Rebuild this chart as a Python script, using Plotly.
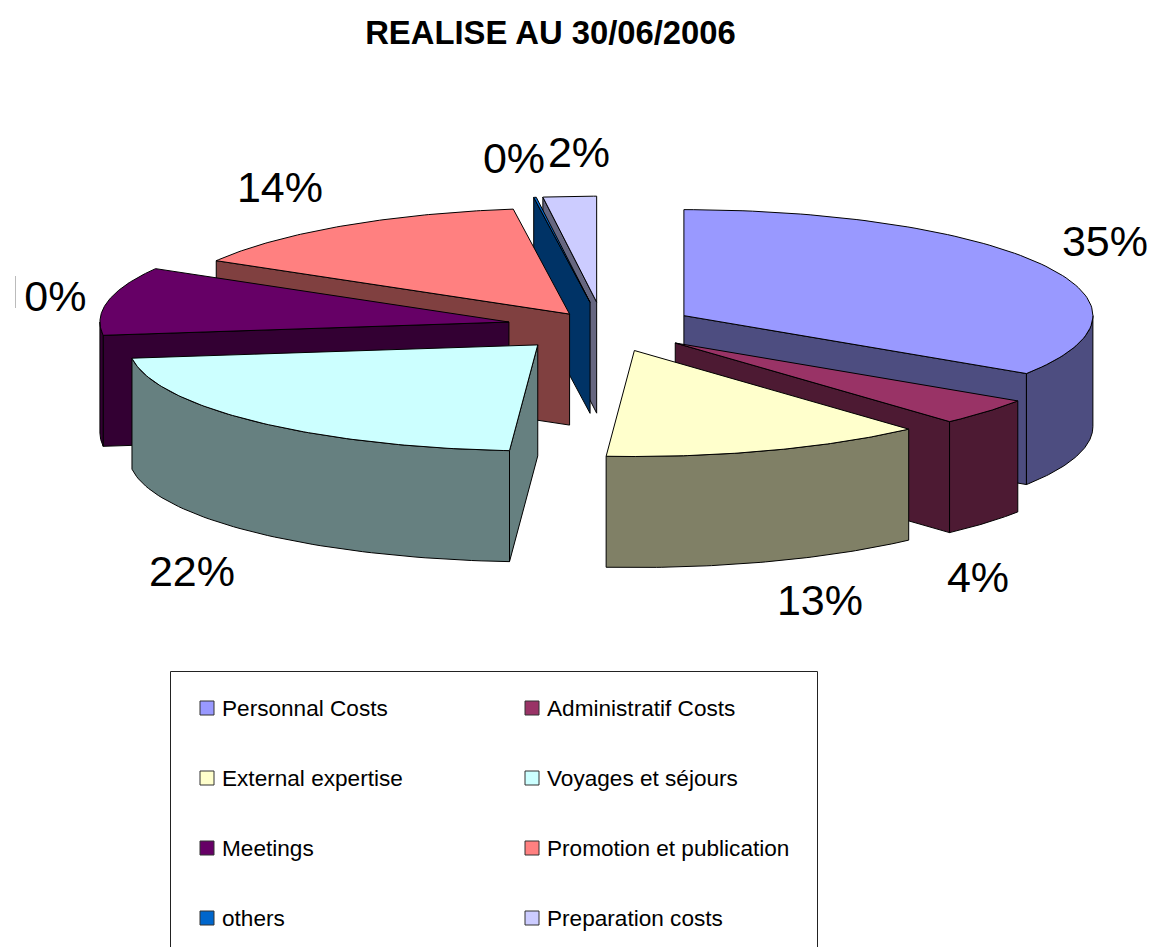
import numpy as np
import plotly.graph_objects as go

# ---- data ----
title = "REALISE AU 30/06/2006"
categories = ["Personnal Costs", "Administratif Costs", "External expertise", "Voyages et séjours",
              "Meetings", "Promotion et publication", "others", "Preparation costs"]
values = [34.2, 4.1, 12.8, 21.9, 10.4, 14.4, 0.1, 2.1]
percent_labels = ["35%", "4%", "13%", "22%", "10%", "14%", "0%", "2%"]

# ---- styles ----
top_colors = ["#9999FF", "#993366", "#FFFFCC", "#CCFFFF", "#660066", "#FF8080", "#0066CC", "#CCCCFF"]
side_colors = ["#4D4D80", "#4D1A33", "#808066", "#668080", "#330033", "#804040", "#003366", "#666680"]
explode = [92, 95, 96, 95, 96, 60, 96, 96]
draw_order = [7, 6, 5, 4, 3, 0, 1, 2]
label_xy = [(1105, 245), (978, 581), (820, 604), (192, 575), (43.5, 300), (280, 191), (514, 162), (579, 156)]
legend_cols = [(207, 222), (532, 547)]
legend_rows = [708, 778, 848, 918]

CX, CY, RX, RY, DEPTH = 603, 327, 409, 106, 111
FONT = "Liberation Sans"
OUTLINE = dict(color="#000000", width=1)

total = sum(values)
edges = np.concatenate([[0], np.cumsum(values)]) / total * 2 * np.pi


def pt(ax, ay, a, drop=0.0):
    return ax + RX * np.sin(a), ay - RY * np.cos(a) + drop


def poly(xs, ys, color):
    return go.Scatter(x=list(xs), y=list(ys), mode="lines", fill="toself", fillcolor=color,
                      line=OUTLINE, hoverinfo="skip", showlegend=False)


fig = go.Figure()

for i in draw_order:
    a0, a1 = edges[i], edges[i + 1]
    mid = (a0 + a1) / 2
    ax = CX + explode[i] * np.sin(mid)
    ay = CY - explode[i] * RY / RX * np.cos(mid)

    # radial walls that face the viewer
    if np.sin(a0) < -1e-6:
        x, y = pt(ax, ay, a0)
        fig.add_trace(poly([ax, x, x, ax, ax], [ay, y, y + DEPTH, ay + DEPTH, ay], side_colors[i]))
    if np.sin(a1) > 1e-6:
        x, y = pt(ax, ay, a1)
        fig.add_trace(poly([ax, x, x, ax, ax], [ay, y, y + DEPTH, ay + DEPTH, ay], side_colors[i]))

    # outer rim, front half only
    f0, f1 = max(a0, np.pi / 2), min(a1, 3 * np.pi / 2)
    if f1 > f0:
        t = np.linspace(f0, f1, 60)
        x, y = pt(ax, ay, t)
        fig.add_trace(poly(np.r_[x, x[::-1], x[0]], np.r_[y, y[::-1] + DEPTH, y[0]], side_colors[i]))

    # top face
    t = np.linspace(a0, a1, 90)
    x, y = pt(ax, ay, t)
    fig.add_trace(poly(np.r_[ax, x, ax], np.r_[ay, y, ay], top_colors[i]))

# percentage labels
fig.add_trace(go.Scatter(
    x=[p[0] for p in label_xy], y=[p[1] for p in label_xy], mode="text",
    text=percent_labels, textposition="middle center",
    textfont=dict(family=FONT, size=43, color="#000000"), hoverinfo="skip", showlegend=False))

# legend
for i, name in enumerate(categories):
    col, row = legend_cols[i % 2], legend_rows[i // 2]
    fig.add_trace(go.Scatter(
        x=[col[0]], y=[row], mode="markers",
        marker=dict(symbol="square", size=14, color=top_colors[i], line=dict(color="#333333", width=1)),
        hoverinfo="skip", showlegend=False))
    fig.add_annotation(x=col[1], y=row, text=name, showarrow=False, xanchor="left", yanchor="middle",
                       xshift=-2, font=dict(family=FONT, size=22.6, color="#000000"))

fig.update_layout(
    width=1153, height=947, margin=dict(l=0, r=0, t=0, b=0),
    paper_bgcolor="#FFFFFF", plot_bgcolor="#FFFFFF",
    title=dict(text=f"<b>{title}</b>", x=550.5 / 1153, y=1 - 33 / 947, xanchor="center", yanchor="middle",
               font=dict(family=FONT, size=32.8, color="#000000")),
    xaxis=dict(range=[0, 1153], visible=False, fixedrange=True),
    yaxis=dict(range=[947, 0], visible=False, fixedrange=True),
    shapes=[
        dict(type="rect", xref="x", yref="y", x0=170.5, x1=817.5, y0=671.5, y1=990,
             line=dict(color="#222222", width=1), fillcolor="rgba(0,0,0,0)", layer="below"),
        # chart area clips the leftmost label down to a sliver
        dict(type="rect", xref="x", yref="y", x0=-5, x1=23.5, y0=260, y1=330,
             line=dict(width=0), fillcolor="#FFFFFF", layer="above"),
        dict(type="line", xref="x", yref="y", x0=15.5, x1=15.5, y0=276, y1=308,
             line=dict(color="#BBBBBB", width=1), layer="above"),
    ],
)

fig.write_html("out.html", post_script="document.body.style.margin='0';document.documentElement.style.overflow='hidden';",
               config={"displayModeBar": False})
